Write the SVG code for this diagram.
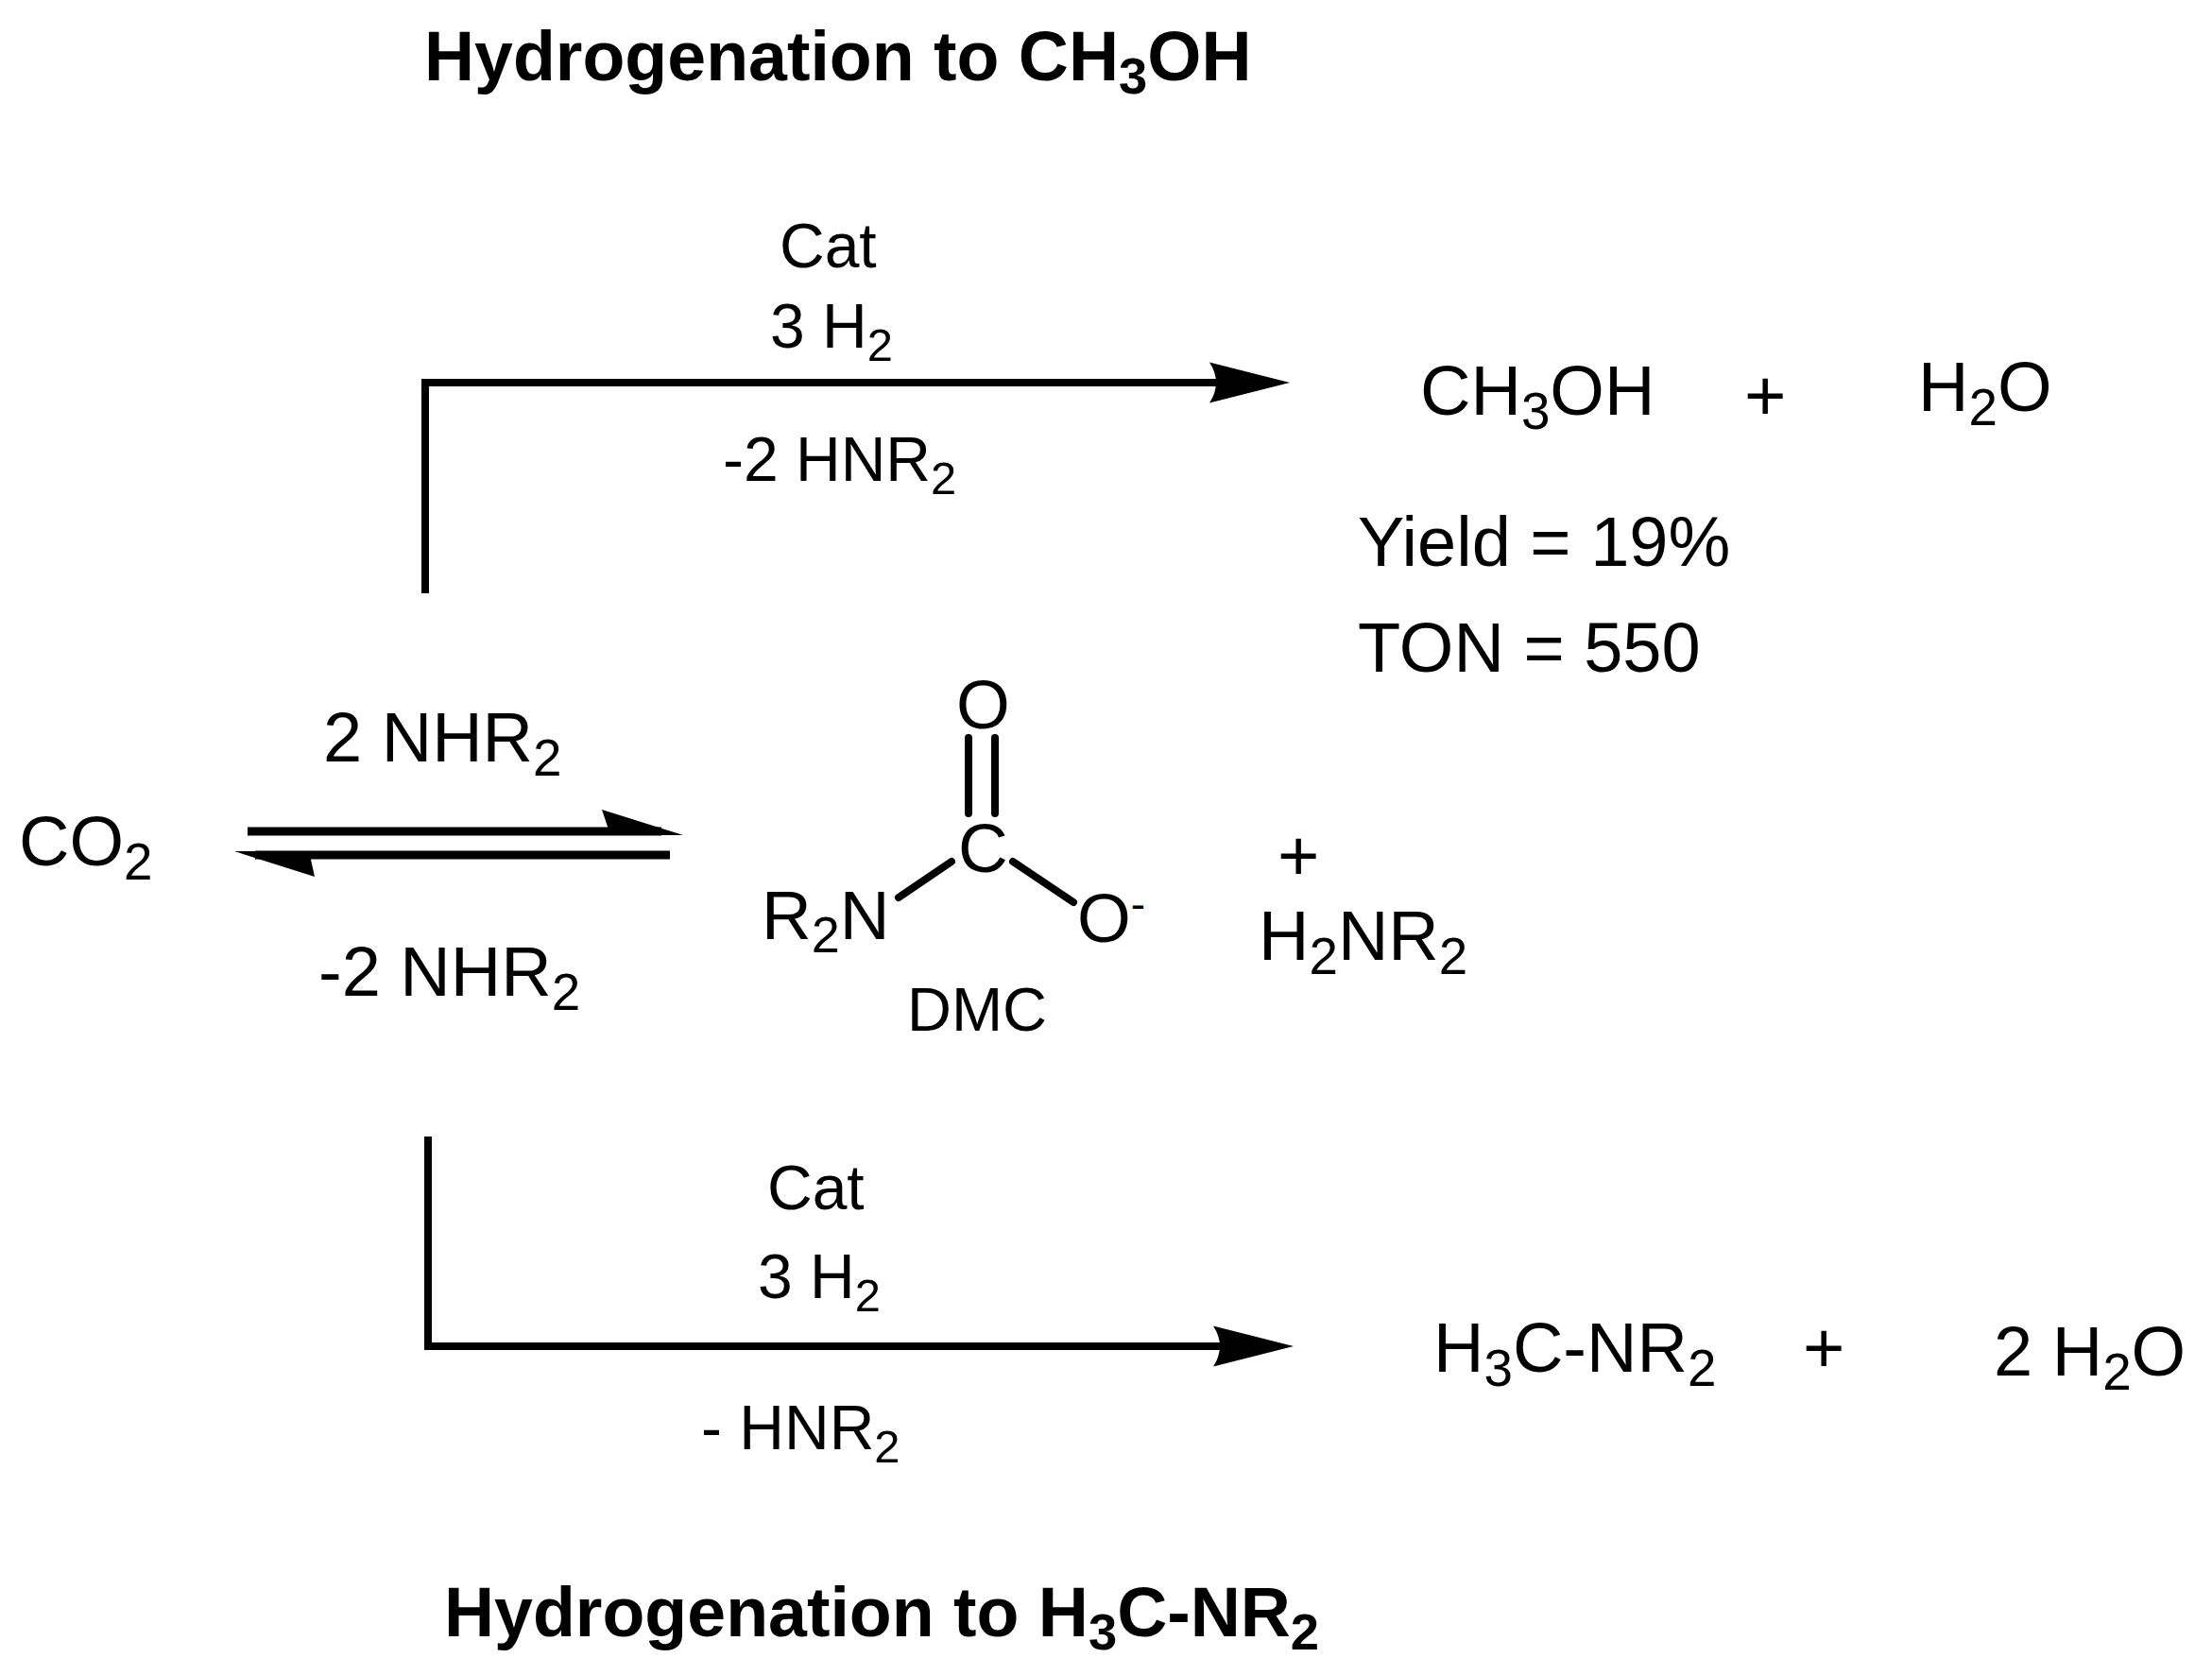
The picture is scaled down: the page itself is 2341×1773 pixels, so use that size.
<svg xmlns="http://www.w3.org/2000/svg" width="2341" height="1773" viewBox="0 0 2341 1773">
<defs><style>
text{font-family:"Liberation Sans",Arial,sans-serif;font-size:74px;fill:#000}
.b{font-weight:bold;font-size:73.500px}
.m{font-size:66px}
.p{font-size:76px}
.n{font-size:73px}
.s{font-size:0.74em}
.l{stroke:#000;stroke-width:8;fill:none;stroke-linecap:round}
.t{stroke:#000;stroke-width:8;fill:none}
.e{stroke:#000;stroke-width:9;fill:none}
</style>
<marker id="a" markerUnits="userSpaceOnUse" markerWidth="86" markerHeight="44" refX="10" refY="22" orient="auto"><path d="M0,0.500L85,22L0,43.500Q14,22 0,0.500Z" fill="#000"/></marker>
</defs>
<rect width="2341" height="1773" fill="#fff"/>
<g id="connectors">
<path class="t" d="M450,628V405H1290" marker-end="url(#a)"/>
<path class="t" d="M453,1203V1425H1294" marker-end="url(#a)"/>
<path class="e" d="M262,880H700"/><path d="M723,884L637,857L646,884Z" fill="#000"/>
<path class="e" d="M709,905H270"/><path d="M248,901L333,928L327,901Z" fill="#000"/>
</g>
<g id="title-top"><text class="b" x="449" y="85">Hydrogenation to CH<tspan class="s" dy="14">3</tspan><tspan dy="-14">OH</tspan></text></g>
<g id="top-conditions"><text x="825" y="283" class="m">Cat</text><text x="815" y="368" class="m">3 H<tspan class="s" dy="14">2</tspan></text><text x="765" y="509" class="m">-2 HNR<tspan class="s" dy="14">2</tspan></text></g>
<g id="ch3oh"><text x="1503" y="439">CH<tspan class="s" dy="15">3</tspan><tspan dy="-15">OH</tspan></text></g>
<g id="plus1"><text x="1846" y="445" class="p">+</text></g>
<g id="h2o-1"><text x="2030" y="435">H<tspan class="s" dy="15">2</tspan><tspan dy="-15">O</tspan></text></g>
<g id="yield"><text x="1437" y="599">Yield = 19%</text><text x="1437" y="711">TON = 550</text></g>
<g id="co2"><text x="20" y="916">CO<tspan class="s" dy="15">2</tspan></text></g>
<g id="nhr-top"><text x="342" y="806">2 NHR<tspan class="s" dy="15">2</tspan></text></g>
<g id="nhr-bot"><text x="337" y="1054">-2 NHR<tspan class="s" dy="15">2</tspan></text></g>
<g id="dmc">
<text x="1012" y="771" class="n">O</text><text x="1014" y="923" class="n">C</text>
<text x="806" y="994" class="n">R<tspan class="s" dy="14">2</tspan><tspan dy="-14">N</tspan></text>
<text x="1140" y="997" class="n">O<tspan font-size="46" dy="-24">-</tspan></text>
<path class="l" d="M1025,781V861M1053,781V861M1007,912L951,950M1072,912L1136,955"/>
<text x="960" y="1091" style="font-size:65px">DMC</text>
</g>
<g id="plus2"><text x="1352" y="932" class="p">+</text></g>
<g id="h2nr2"><text x="1332" y="1016">H<tspan class="s" dy="15">2</tspan><tspan dy="-15">NR</tspan><tspan class="s" dy="15">2</tspan></text></g>
<g id="bot-conditions"><text x="812" y="1280" class="m">Cat</text><text x="802" y="1374" class="m">3 H<tspan class="s" dy="14">2</tspan></text><text x="742" y="1534" class="m">- HNR<tspan class="s" dy="14">2</tspan></text></g>
<g id="h3cnr2"><text x="1517" y="1452">H<tspan class="s" dy="15">3</tspan><tspan dy="-15">C-NR</tspan><tspan class="s" dy="15">2</tspan></text></g>
<g id="plus3"><text x="1908" y="1453" class="p">+</text></g>
<g id="h2o-2"><text x="2110" y="1456">2 H<tspan class="s" dy="15">2</tspan><tspan dy="-15">O</tspan></text></g>
<g id="title-bot"><text class="b" x="470" y="1732">Hydrogenation to H<tspan class="s" dy="14">3</tspan><tspan dy="-14">C-NR</tspan><tspan class="s" dy="14">2</tspan></text></g>
</svg>
